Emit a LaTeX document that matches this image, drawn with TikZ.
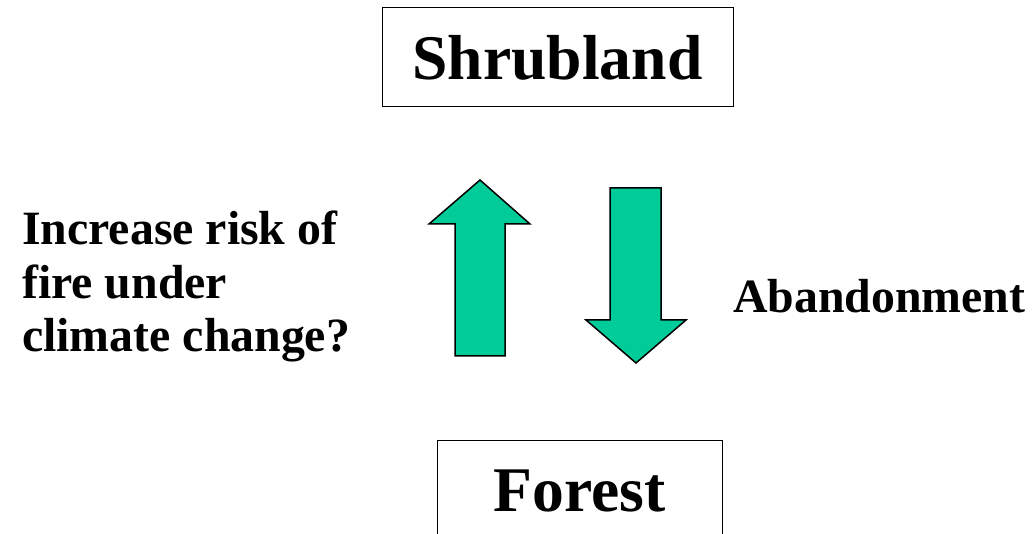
\documentclass[tikz,border=0pt]{standalone}
\usepackage{fontspec}
\setmainfont{Liberation Serif}[BoldFont={Liberation Serif Bold}]
\usetikzlibrary{positioning}

\definecolor{arrowgreen}{RGB}{0,204,153}

\tikzset{
  statebox/.style={draw, line width=1pt, inner sep=0pt, font=\fontsize{63.6}{70}\selectfont\bfseries},
  sidetext/.style={inner sep=0pt, align=left, font=\fontsize{47.8}{53.5}\selectfont\bfseries},
  bigarrow/.style={fill=arrowgreen, draw=black, line width=1.5pt, line join=miter}
}

\begin{document}
\begin{tikzpicture}[x=1pt, y=-1pt]
        \useasboundingbox (0,0) rectangle (1033,534);

                % Define and draw the two states (nodes)
                \node[statebox, minimum width=351pt, minimum height=99pt] (shrub) at (557.5, 57.5) {Shrubland};
                \node[statebox, minimum width=285pt, minimum height=102pt] (forest) at (579.5, 491) {Forest};

                % The two labels beside the arrows
                \node[sidetext, anchor=base west] (risk) at (22, 352) {Increase risk of\\fire under\\climate change?};
                \node[sidetext, anchor=base west] (aband) at (733, 313) {Abandonment};

                % Upward arrow: forest to shrubland
                \draw[bigarrow] (455,356) -- (455,224) -- (429,224) -- (480,180)
                        -- (530,224) -- (505,224) -- (505,356) -- cycle;

                % Downward arrow: shrubland to forest
                \draw[bigarrow] (610,188) -- (610,320) -- (586,320) -- (636,363)
                        -- (686,320) -- (661,320) -- (661,188) -- cycle;
            \end{tikzpicture}
\end{document}
